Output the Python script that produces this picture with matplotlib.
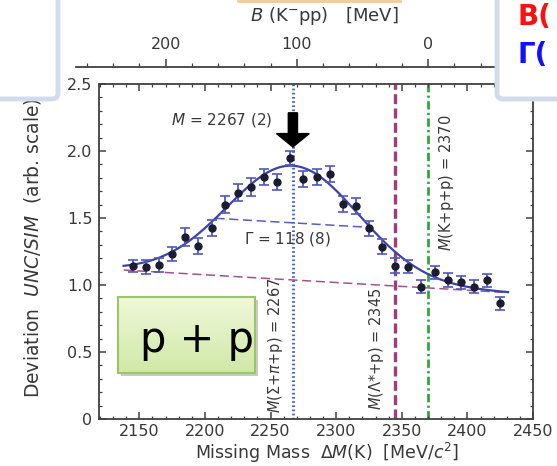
import matplotlib.pyplot as plt
import numpy as np
from matplotlib.patches import FancyBboxPatch, Rectangle
from matplotlib.lines import Line2D
from matplotlib.colors import LinearSegmentedColormap
from matplotlib.ticker import MultipleLocator, FixedLocator, FixedFormatter

W, H = 557, 466

# missing-mass bins [MeV/c^2] and UNC/SIM deviation
mass = [2145, 2155, 2165, 2175, 2185, 2195, 2205, 2215, 2225, 2235,
        2245, 2255, 2265, 2275, 2285, 2295, 2305, 2315, 2325, 2335,
        2345, 2355, 2365, 2375, 2385, 2395, 2405, 2415, 2425]
deviation = [1.142, 1.134, 1.149, 1.231, 1.356, 1.293, 1.423, 1.600, 1.690, 1.730,
             1.806, 1.766, 1.950, 1.789, 1.808, 1.828, 1.604, 1.590, 1.423, 1.286,
             1.144, 1.137, 0.988, 1.095, 1.037, 1.020, 0.988, 1.035, 0.863]
errors = [0.047, 0.050, 0.050, 0.055, 0.066, 0.060, 0.060, 0.062, 0.065, 0.065,
          0.060, 0.060, 0.052, 0.060, 0.060, 0.058, 0.060, 0.060, 0.058, 0.055,
          0.055, 0.050, 0.050, 0.050, 0.050, 0.050, 0.050, 0.050, 0.050]

# fit: gaussian on a linear background
peak_mass = 2267
peak_width = 118
peak_top = 1.89
bg_mass = [2138, 2431]
bg_level = [1.112, 0.943]

# thresholds
thr_mass = [2267, 2345, 2370]
thr_text = [r"$M$($\Sigma$+$\pi$+p) = 2267", r"$M$($\Lambda$*+p) = 2345", r"$M$(K+p+p) = 2370"]

TXT = "#383838"


def fx(x):
    return x / W


def fy(y):
    return 1 - y / H


fig = plt.figure(figsize=(W / 100, H / 100), dpi=100)

ax = fig.add_axes([fx(98.7), fy(419), (533 - 98.7) / W, (419 - 84) / H])
ax.set_xlim(2119, 2450)
ax.set_ylim(0, 2.5)

# threshold lines
ax.axvline(thr_mass[0], color="#3a5fd0", lw=2.0, ls=(0, (0.6, 0.9)), zorder=1)
ax.axvline(thr_mass[1], color="#a33a7c", lw=2.4, ls=(0, (3, 1.3)), zorder=1)
ax.axvline(thr_mass[2], color="#2fa83a", lw=2.0, ls=(0, (3, 1.2, 0.8, 1.2)), zorder=1)

# fit curve, background and half-maximum line
m = np.linspace(bg_mass[0], bg_mass[1], 400)
bg = np.interp(m, bg_mass, bg_level)
amp = peak_top - np.interp(peak_mass, bg_mass, bg_level)
sigma = peak_width / (2 * np.sqrt(2 * np.log(2)))
fit = bg + amp * np.exp(-(m - peak_mass) ** 2 / (2 * sigma ** 2))
ax.plot(bg_mass, bg_level, color="#a8508a", lw=1.1, ls=(0, (6, 3)), zorder=2)
half_m = [peak_mass - peak_width / 2, peak_mass + peak_width / 2]
half_v = np.interp(half_m, bg_mass, bg_level) + amp / 2
ax.plot(half_m, half_v, color="#5060c8", lw=1.1, ls=(0, (6, 3)), zorder=2)
ax.plot(m, fit, color="#3c43a8", lw=1.6, zorder=2)

ax.errorbar(mass, deviation, yerr=errors, fmt="o", color="#1c1c30", ms=5,
            ecolor="#5058c0", elinewidth=1.3, capsize=3.5, capthick=1.2, zorder=3)

# peak arrow and annotations
ax.arrow(peak_mass, 2.285, 0, -0.255, width=7, head_width=25, head_length=0.1,
         length_includes_head=True, color="black", zorder=4)
ax.text(2251.5, 2.231, r"$M$ = 2267 (2)", ha="right", va="center", fontsize=11, color=TXT)
ax.text(2262.7, 1.343, r"$\Gamma$ = 118 (8)", ha="center", va="center", fontsize=11, color=TXT)

ax.text(2253.6, 0.552, thr_text[0], rotation=90, ha="center", va="center", fontsize=10.5, color=TXT)
ax.text(2331.0, 0.522, thr_text[1], rotation=90, ha="center", va="center", fontsize=10.5, color=TXT)
ax.text(2384.3, 1.765, thr_text[2], rotation=90, ha="center", va="center", fontsize=10.5, color=TXT)

# axes styling
for s in ax.spines.values():
    s.set_color("#404040")
    s.set_linewidth(1.3)
ax.xaxis.set_major_locator(MultipleLocator(50))
ax.xaxis.set_minor_locator(MultipleLocator(10))
ax.yaxis.set_major_locator(FixedLocator([0, 0.5, 1.0, 1.5, 2.0, 2.5]))
ax.yaxis.set_major_formatter(FixedFormatter(["0", "0.5", "1.0", "1.5", "2.0", "2.5"]))
ax.yaxis.set_minor_locator(MultipleLocator(0.1))
ax.tick_params(which="both", direction="in", top=True, right=True, color="#404040",
               labelsize=11.5, labelcolor=TXT)
ax.tick_params(which="major", length=5, width=1.1)
ax.tick_params(which="minor", length=2.5, width=0.9)
ax.tick_params(axis="x", pad=3.5)
ax.tick_params(axis="y", pad=4.5)

fig.text(fx(327.5), fy(453), r"Missing Mass  $\Delta M$(K)  [MeV/$c^2$]", ha="center", va="center",
         fontsize=12.5, color=TXT)
fig.text(fx(33), fy(248), r"Deviation  $UNC/SIM$  (arb. scale)", ha="center", va="center",
         rotation=90, fontsize=13.5, color=TXT)

# binding-energy axis on top: B = 2370 - M
axt = fig.add_axes([fx(76), fy(67) - 0.005, (533 - 76) / W, 0.005])
axt.patch.set_visible(False)
for k in ["bottom", "left", "right"]:
    axt.spines[k].set_visible(False)
axt.spines["top"].set_color("#404040")
axt.spines["top"].set_linewidth(1.3)
m_left = 2119 - (98.7 - 76) * (2450 - 2119) / (533 - 98.7)
axt.set_xlim(thr_mass[2] - m_left, thr_mass[2] - 2450)
axt.set_yticks([])
axt.xaxis.set_major_locator(FixedLocator([200, 100, 0]))
axt.xaxis.set_minor_locator(MultipleLocator(20))
axt.tick_params(axis="x", which="both", top=True, bottom=False, labeltop=True, labelbottom=False,
                direction="out", color="#404040", labelsize=11.5, labelcolor=TXT)
axt.tick_params(axis="x", which="major", length=5.5, width=1.1, pad=5)
axt.tick_params(axis="x", which="minor", length=3, width=0.9)
fig.text(fx(324), fy(16), r"$B$ (K$^{-}$pp)   [MeV]", ha="center", va="center", fontsize=13, color=TXT)

# slide decorations
fig.patches.append(FancyBboxPatch((fx(-20), fy(99)), 78 / W, 130 / H, boxstyle="round,pad=0,rounding_size=0.012",
                                  transform=fig.transFigure, fc="white", ec="#d3dbea", lw=3.5, zorder=6))
fig.patches.append(FancyBboxPatch((fx(497), fy(99)), 90 / W, 130 / H, boxstyle="round,pad=0,rounding_size=0.012",
                                  transform=fig.transFigure, fc="white", ec="#d3dbea", lw=3.5, zorder=6))
fig.lines.append(Line2D([fx(238), fx(400)], [fy(0.5), fy(0.5)], transform=fig.transFigure,
                        color="#f5c896", lw=2, zorder=6))
fig.text(fx(517), fy(17), "B(", color="#ff1010", fontsize=20, fontweight="bold",
         ha="left", va="center", zorder=7)
fig.text(fx(517), fy(55), "Γ(", color="#1010ff", fontsize=20, fontweight="bold",
         ha="left", va="center", zorder=7)

# "p + p" label box
fig.patches.append(Rectangle((fx(121), fy(376)), 137 / W, 76 / H, transform=fig.transFigure,
                             fc="#8a8a8a", ec="none", alpha=0.45, zorder=7))
box = fig.add_axes([fx(118), fy(373), 137 / W, 76 / H])
box.set_zorder(8)
grad = np.linspace(0, 1, 64).reshape(-1, 1)
box.imshow(grad, aspect="auto", extent=[0, 1, 0, 1], origin="lower",
           cmap=LinearSegmentedColormap.from_list("g", ["#cfe8a6", "#f0f9da"]))
box.set_xticks([])
box.set_yticks([])
for s in box.spines.values():
    s.set_color("#9cc468")
    s.set_linewidth(1.5)
box.text(0.575, 0.276, "p + p", fontsize=30, ha="center", va="baseline", color="black", clip_on=False)

fig.savefig("out.png", dpi=100)
